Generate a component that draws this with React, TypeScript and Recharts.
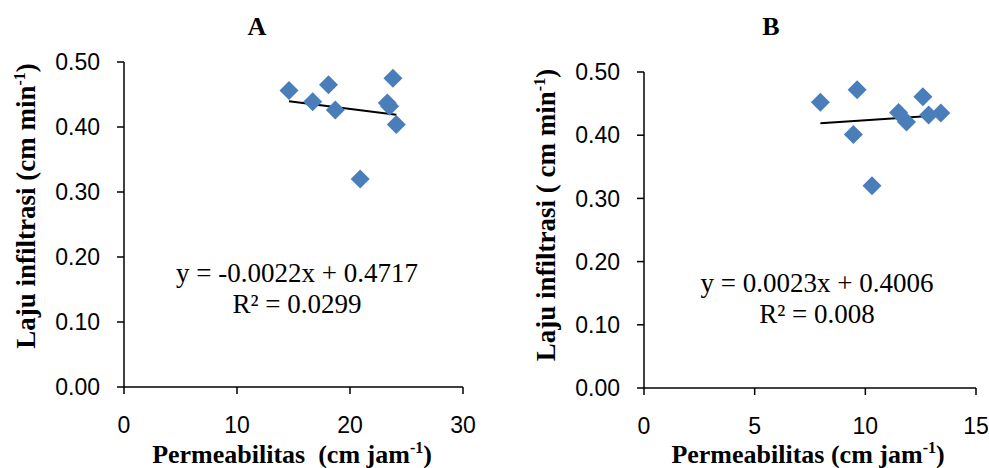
import React from 'react';
import { ScatterChart, Scatter, XAxis, YAxis, ReferenceLine } from 'recharts';

// Panel A: permeabilitas vs laju infiltrasi
const permeabilityA = [14.6, 16.7, 18.1, 18.7, 23.8, 23.3, 23.5, 24.1, 20.9];
const infiltrationA = [0.456, 0.439, 0.465, 0.426, 0.475, 0.437, 0.432, 0.404, 0.32];
const xTicksA = [0, 10, 20, 30];
const slopeA = -0.0022;
const interceptA = 0.4717;

// Panel B
const permeabilityB = [7.97, 9.63, 12.6, 11.5, 11.86, 12.86, 13.41, 9.46, 10.3];
const infiltrationB = [0.452, 0.472, 0.461, 0.436, 0.421, 0.432, 0.435, 0.401, 0.32];
const xTicksB = [0, 5, 10, 15];
const slopeB = 0.0023;
const interceptB = 0.4006;

const yTicks = [0, 0.1, 0.2, 0.3, 0.4, 0.5];

const SERIF = '"Liberation Serif", "Times New Roman", serif';
const SANS = '"Liberation Sans", Arial, sans-serif';
const BLUE = '#4A7EBB';
const TICK_FONT = 23;

const toPoints = (xs: number[], ys: number[]) => xs.map((x, i) => ({ x, y: ys[i] }));

const trendSegment = (xs: number[], slope: number, intercept: number) => {
  const x1 = Math.min(...xs);
  const x2 = Math.max(...xs);
  return [
    { x: x1, y: slope * x1 + intercept },
    { x: x2, y: slope * x2 + intercept },
  ];
};

const Diamond = (props: any) => {
  const { cx, cy } = props;
  const r = 9.5;
  return (
    <polygon
      points={`${cx},${cy - r} ${cx + r},${cy} ${cx},${cy + r} ${cx - r},${cy}`}
      fill={BLUE}
    />
  );
};

// custom ticks so the font size sticks
const XTick = (props: any) => {
  const { x, y, payload } = props;
  return (
    <text x={x} y={y} dy="0.71em" textAnchor="middle" fontFamily={SANS} fontSize={TICK_FONT} fill="#000">
      {payload.value}
    </text>
  );
};

const YTick = (props: any) => {
  const { x, y, payload } = props;
  return (
    <text x={x} y={y} dy="0.36em" textAnchor="end" fontFamily={SANS} fontSize={TICK_FONT} fill="#000">
      {Number(payload.value).toFixed(2)}
    </text>
  );
};

interface PanelProps {
  width: number;
  left: number;
  marginTop: number;
  marginRight: number;
  marginBottom: number;
  title: string;
  titleX: number;
  xs: number[];
  ys: number[];
  xTicks: number[];
  slope: number;
  intercept: number;
  yLabel: string;
  xLabel: string;
  xLabelX: number;
  yLabelY: number;
  eq: string;
  r2: string;
  eqX: number;
  eqY: number;
}

const Panel: React.FC<PanelProps> = (p) => {
  const data = toPoints(p.xs, p.ys);
  const xMax = p.xTicks[p.xTicks.length - 1];
  return (
    <div style={{ position: 'absolute', left: p.left, top: 0 }}>
      <ScatterChart
        width={p.width}
        height={468}
        margin={{ top: p.marginTop, right: p.marginRight, bottom: p.marginBottom, left: 0 }}
      >
        <XAxis
          type="number"
          dataKey="x"
          domain={[0, xMax]}
          ticks={p.xTicks}
          height={30}
          tickSize={7}
          tickMargin={23}
          tick={<XTick />}
          axisLine={{ stroke: '#000', strokeWidth: 1.5 }}
          tickLine={{ stroke: '#000', strokeWidth: 1.5 }}
        />
        <YAxis
          type="number"
          dataKey="y"
          domain={[0, 0.5]}
          ticks={yTicks}
          width={124}
          tickSize={7}
          tickMargin={17}
          tick={<YTick />}
          axisLine={{ stroke: '#000', strokeWidth: 1.5 }}
          tickLine={{ stroke: '#000', strokeWidth: 1.5 }}
        />
        <Scatter data={data} shape={Diamond} isAnimationActive={false} />
        <ReferenceLine
          segment={trendSegment(p.xs, p.slope, p.intercept)}
          stroke="#000"
          strokeWidth={2}
        />
        <text x={p.titleX} y={35} textAnchor="middle" fontFamily={SERIF} fontWeight="bold" fontSize={26} fill="#000">
          {p.title}
        </text>
        <text
          x={35}
          y={p.yLabelY}
          transform={`rotate(-90, 35, ${p.yLabelY})`}
          textAnchor="middle"
          fontFamily={SERIF}
          fontWeight="bold"
          fontSize={27}
          fill="#000"
          style={{ whiteSpace: 'pre' }}
        >
          {p.yLabel}
          <tspan fontSize={16} dy={-10}>-1</tspan>
          <tspan dy={10}>)</tspan>
        </text>
        <text
          x={p.xLabelX}
          y={463}
          textAnchor="middle"
          fontFamily={SERIF}
          fontWeight="bold"
          fontSize={26}
          fill="#000"
          style={{ whiteSpace: 'pre' }}
        >
          {p.xLabel}
          <tspan fontSize={16} dy={-10}>-1</tspan>
          <tspan dy={10}>)</tspan>
        </text>
        <text x={p.eqX} y={p.eqY} textAnchor="middle" fontFamily={SERIF} fontSize={27} fill="#000">
          {p.eq}
        </text>
        <text x={p.eqX} y={p.eqY + 31} textAnchor="middle" fontFamily={SERIF} fontSize={27} fill="#000">
          {p.r2}
        </text>
      </ScatterChart>
    </div>
  );
};

export default function App() {
  return (
    <div style={{ position: 'absolute', left: 0, top: 0, width: 989, height: 468, background: '#fff' }}>
      <Panel
        width={520}
        left={0}
        marginTop={62}
        marginRight={57}
        marginBottom={51}
        title="A"
        titleX={257}
        xs={permeabilityA}
        ys={infiltrationA}
        xTicks={xTicksA}
        slope={slopeA}
        intercept={interceptA}
        yLabel="Laju infiltrasi (cm min"
        xLabel="Permeabilitas  (cm jam"
        xLabelX={292}
        yLabelY={206}
        eq={`y = ${slopeA}x + ${interceptA}`}
        r2="R² = 0.0299"
        eqX={297}
        eqY={282}
      />
      <Panel
        width={469}
        left={520}
        marginTop={72}
        marginRight={13}
        marginBottom={50}
        title="B"
        titleX={251}
        xs={permeabilityB}
        ys={infiltrationB}
        xTicks={xTicksB}
        slope={slopeB}
        intercept={interceptB}
        yLabel="Laju infiltrasi ( cm min"
        xLabel="Permeabilitas (cm jam"
        xLabelX={288}
        yLabelY={215}
        eq={`y = ${slopeB}x + ${interceptB}`}
        r2="R² = 0.008"
        eqX={297}
        eqY={292}
      />
    </div>
  );
}
